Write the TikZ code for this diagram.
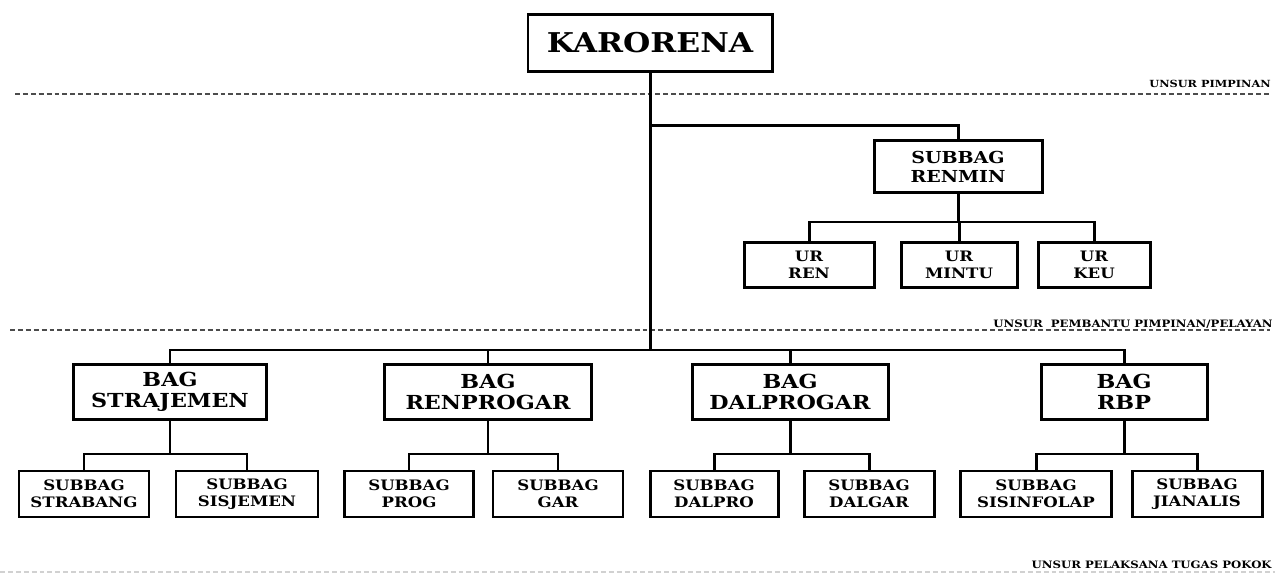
\documentclass[tikz,border=0pt]{standalone}
\usepackage{fontspec}
\newfontfamily\orgfont[FakeStretch=1.15]{DejaVu Serif}
\tikzset{
  orgbox/.style 2 args={draw,line width=1.7pt,fill=white,align=center,inner sep=0pt,
    minimum width=#1*0.02cm,minimum height=#2*0.02cm},
  topfont/.style={font=\orgfont\bfseries\fontsize{15.5}{17}\selectfont},
  midfont/.style={font=\orgfont\bfseries\fontsize{11}{12.2}\selectfont},
  renfont/.style={font=\orgfont\bfseries\fontsize{9.4}{10.8}\selectfont},
  subfont/.style={font=\orgfont\bfseries\fontsize{8.2}{9.8}\selectfont},
  link/.style={line width=1.7pt},
  sepline/.style={line width=0.7pt,draw=black!70,dash pattern=on 2.8pt off 1.7pt},
  seplabel/.style={font=\orgfont\bfseries\fontsize{5.8}{6}\selectfont,anchor=base east,inner sep=0pt}
}

\begin{document}
\begin{tikzpicture}[x=0.02cm,y=-0.02cm]
  \useasboundingbox (0,0) rectangle (1275,573);
  % separators
  \draw[sepline] (15,94) -- (1270,94);
  \node[seplabel,font=\orgfont\bfseries\fontsize{5.6}{6}\selectfont] (lbpimp) at (1271,88) {UNSUR PIMPINAN};
  \draw[sepline] (10,330) -- (1270,330);
  \node[seplabel] (lbbantu) at (1273,328) {UNSUR\ \ PEMBANTU PIMPINAN/PELAYAN};
  \draw[sepline,draw=black!18] (0,572) -- (1275,572);
  \node[seplabel] (lbpelak) at (1272,569) {UNSUR PELAKSANA TUGAS POKOK};

  \coordinate (rbus) at (0,126);
  \coordinate (urbus) at (0,222);
  \coordinate (bus) at (0,350);
  \coordinate (subbus) at (0,454);

  \node[orgbox={244}{57},topfont] (karorena) at (650,43) {KARORENA};
  \node[orgbox={168}{52},renfont] (renmin) at (958,167) {SUBBAG\\RENMIN};
  \node[orgbox={130}{45},subfont] (ren) at (809,265) {UR\\REN};
  \node[orgbox={116}{45},subfont] (mintu) at (959,265) {UR\\MINTU};
  \node[orgbox={112}{45},subfont] (keu) at (1094,265) {UR\\KEU};

  \node[orgbox={193}{55},midfont] (strajemen) at (170,392) {BAG\\STRAJEMEN};
  \node[orgbox={207}{55},midfont] (renprogar) at (488,392) {BAG\\RENPROGAR};
  \node[orgbox={196}{55},midfont] (dalprogar) at (790,392) {BAG\\DALPROGAR};
  \node[orgbox={166}{55},midfont] (rbp) at (1124,392) {BAG\\RBP};

  \node[orgbox={130}{46},subfont] (strabang) at (84,494) {SUBBAG\\STRABANG};
  \node[orgbox={142}{46},subfont] (sisjemen) at (247,494) {SUBBAG\\SISJEMEN};
  \node[orgbox={129}{46},subfont] (prog) at (409,494) {SUBBAG\\PROG};
  \node[orgbox={130}{46},subfont] (gar) at (558,494) {SUBBAG\\GAR};
  \node[orgbox={128}{46},subfont] (dalpro) at (714,494) {SUBBAG\\DALPRO};
  \node[orgbox={130}{46},subfont] (dalgar) at (869,494) {SUBBAG\\DALGAR};
  \node[orgbox={151}{46},subfont] (sisinfolap) at (1036,494) {SUBBAG\\SISINFOLAP};
  \node[orgbox={130}{46},subfont] (jianalis) at (1197,494) {SUBBAG\\JIANALIS};

  % connectors
  \draw[link] (karorena.south) -- (karorena.south |- bus);
  \draw[link] (karorena.south |- rbus) -| (renmin.north);
  \draw[link] (renmin.south) -- (renmin.south |- urbus);
  \draw[link] (ren.north) |- (renmin.south |- urbus) -| (keu.north);
  \draw[link] (mintu.north) -- (mintu.north |- urbus);
  \draw[link] (strajemen.north) |- (karorena.south |- bus) -| (rbp.north);
  \draw[link] (renprogar.north) -- (renprogar.north |- bus);
  \draw[link] (dalprogar.north) -- (dalprogar.north |- bus);
  \foreach \p/\a/\b in {strajemen/strabang/sisjemen,renprogar/prog/gar,
      dalprogar/dalpro/dalgar,rbp/sisinfolap/jianalis}{
    \draw[link] (\p.south) -- (\p.south |- subbus);
    \draw[link] (\a.north) |- (\p.south |- subbus) -| (\b.north);
  }
\end{tikzpicture}
\end{document}
